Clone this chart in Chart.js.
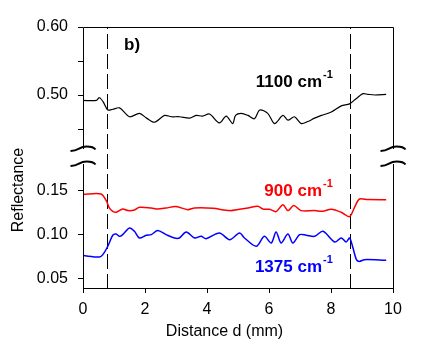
<!DOCTYPE html>
<html lang="en">
<head>
  <meta charset="UTF-8">
  <title>Reflectance vs distance</title>
  <script src="https://cdn.jsdelivr.net/npm/chart.js"></script>
  <style>
    body {
      margin: 0;
      background: #fff;
    }
    .chart-box {
      width: 426px;
      height: 354px;
    }
  </style>
</head>
<body>
  <div class="chart-box">
    <canvas id="reflChart" width="426" height="354"></canvas>
  </div>

  <script>
    // 1100 cm-1 (upper panel)
    const blackX = [0, 0.43, 0.53, 0.65, 0.80, 0.96, 1.18, 1.50, 1.82, 2.05, 2.31, 2.63, 2.85, 3.11, 3.44, 3.65, 3.86, 4.08, 4.40, 4.62, 4.83, 4.92, 5.10, 5.32, 5.53, 5.70, 5.96, 6.18, 6.45, 6.61, 6.82, 7.04, 7.25, 7.47, 7.69, 8.01, 8.33, 8.60, 8.82, 9.03, 9.19, 9.41, 9.78];
    const blackY = [0.492, 0.492, 0.496, 0.490, 0.478, 0.479, 0.481, 0.468, 0.473, 0.466, 0.460, 0.470, 0.468, 0.468, 0.466, 0.470, 0.469, 0.472, 0.459, 0.469, 0.458, 0.470, 0.473, 0.470, 0.465, 0.478, 0.473, 0.458, 0.470, 0.463, 0.468, 0.458, 0.461, 0.466, 0.470, 0.475, 0.484, 0.487, 0.495, 0.502, 0.501, 0.500, 0.501];

    // 900 cm-1 (lower panel)
    const redX = [0, 0.58, 0.75, 0.85, 0.96, 1.07, 1.28, 1.45, 1.66, 1.82, 2.20, 2.41, 2.68, 3.00, 3.38, 3.60, 4.19, 4.73, 5.05, 5.32, 5.64, 5.80, 6.02, 6.23, 6.45, 6.61, 6.80, 7.04, 7.47, 7.73, 8.01, 8.33, 8.60, 8.76, 8.92, 9.19, 9.78];
    const redY = [0.146, 0.1466, 0.139, 0.1307, 0.1269, 0.1258, 0.1296, 0.1277, 0.1284, 0.1315, 0.1307, 0.1296, 0.1307, 0.1323, 0.1288, 0.1307, 0.1303, 0.1277, 0.1292, 0.1307, 0.1326, 0.1296, 0.1292, 0.1266, 0.1345, 0.1277, 0.1334, 0.1277, 0.1277, 0.1269, 0.1292, 0.1258, 0.1209, 0.1315, 0.1409, 0.1402, 0.1400];

    // 1375 cm-1 (lower panel)
    const blueX = [0, 0.53, 0.64, 0.80, 0.96, 1.07, 1.18, 1.28, 1.50, 1.66, 1.82, 2.04, 2.20, 2.41, 2.68, 2.95, 3.11, 3.33, 3.60, 3.81, 3.97, 4.40, 4.73, 5.05, 5.21, 5.59, 5.85, 6.07, 6.23, 6.39, 6.61, 6.77, 6.99, 7.20, 7.47, 7.74, 8.12, 8.33, 8.49, 8.60, 8.71, 8.82, 8.92, 9.08, 9.78];
    const blueY = [0.0766, 0.075, 0.0777, 0.0872, 0.0997, 0.1011, 0.0985, 0.1004, 0.108, 0.1042, 0.0966, 0.0997, 0.1004, 0.105, 0.1004, 0.0966, 0.0966, 0.1034, 0.0966, 0.0985, 0.0958, 0.1023, 0.0947, 0.1023, 0.0966, 0.0872, 0.0985, 0.0909, 0.1034, 0.0909, 0.1011, 0.0909, 0.1004, 0.0997, 0.0985, 0.1042, 0.092, 0.0966, 0.092, 0.0966, 0.0852, 0.072, 0.070, 0.072, 0.0712];

    // dashed boundary lines
    const markerX = [0.77, 8.6];

    // ticks
    const xTicks = [0, 2, 4, 6, 8, 10];
    const highTicks = [0.45, 0.50, 0.55, 0.60];
    const highLabels = ['', '0.50', '', '0.60'];
    const lowTicks = [0.05, 0.075, 0.10, 0.125, 0.15];
    const lowLabels = ['0.05', '', '0.10', '', '0.15'];

    const FONT = '"Liberation Sans", Arial, sans-serif';
    const toPoints = (xs, ys) => xs.map((x, i) => ({ x: x, y: ys[i] }));

    const framePlugin = {
      id: 'frame',
      beforeDatasetsDraw(chart) {
        const { ctx, chartArea: a, scales } = chart;
        ctx.save();
        ctx.strokeStyle = '#000';
        ctx.lineWidth = 1;
        ctx.setLineDash([15, 5]);
        ctx.lineDashOffset = 13;
        markerX.forEach(v => {
          const x = Math.round(scales.x.getPixelForValue(v)) + 0.5;
          ctx.beginPath();
          ctx.moveTo(x, a.top);
          ctx.lineTo(x, a.bottom);
          ctx.stroke();
        });
        ctx.restore();
      },
      afterDraw(chart) {
        const { ctx, chartArea: a, scales } = chart;
        const gapTop = scales.yHigh.bottom - 7;
        const gapBottom = scales.yLow.top + 8;
        const left = Math.round(a.left) + 0.5;
        const right = Math.round(a.right) + 0.5;
        const top = Math.round(a.top) + 0.5;

        ctx.save();
        ctx.strokeStyle = '#000';
        ctx.lineWidth = 1;
        ctx.beginPath();
        ctx.moveTo(left, gapTop);
        ctx.lineTo(left, top);
        ctx.lineTo(right, top);
        ctx.lineTo(right, gapTop);
        ctx.moveTo(left, gapBottom);
        ctx.lineTo(left, a.bottom);
        ctx.moveTo(right, gapBottom);
        ctx.lineTo(right, a.bottom);
        ctx.stroke();

        // axis break marks
        ctx.lineWidth = 2;
        [left, right].forEach(x => {
          [gapTop, gapBottom].forEach(y => {
            ctx.beginPath();
            ctx.moveTo(x - 13, y + 2);
            ctx.bezierCurveTo(x - 4, y + 2, x - 5, y - 2.5, x + 3, y - 2.5);
            ctx.quadraticCurveTo(x + 10, y - 2.5, x + 12, y + 0.5);
            ctx.stroke();
          });
        });

        // axis titles
        ctx.fillStyle = '#000';
        ctx.font = '16px ' + FONT;
        ctx.textAlign = 'center';
        ctx.textBaseline = 'alphabetic';
        ctx.fillText('Distance d (mm)', 224.5, 336);
        ctx.translate(23, 190);
        ctx.rotate(-Math.PI / 2);
        ctx.fillText('Reflectance', 0, 0);
        ctx.restore();

        // panel label and series labels
        ctx.save();
        ctx.textBaseline = 'alphabetic';
        ctx.fillStyle = '#000';
        ctx.font = 'bold 17px ' + FONT;
        ctx.textAlign = 'left';
        ctx.fillText('b)', 124, 50);

        const labels = [
          { text: '1100 cm', color: '#000', x: scales.x.getPixelForValue(7.71), y: scales.yHigh.getPixelForValue(0.5118) },
          { text: '900 cm', color: '#ff0000', x: scales.x.getPixelForValue(7.71), y: scales.yLow.getPixelForValue(0.1445) },
          { text: '1375 cm', color: '#0000ff', x: scales.x.getPixelForValue(7.71), y: scales.yLow.getPixelForValue(0.058) }
        ];
        labels.forEach(l => {
          ctx.fillStyle = l.color;
          ctx.font = 'bold 17px ' + FONT;
          ctx.textAlign = 'right';
          ctx.fillText(l.text, l.x, l.y);
          ctx.font = 'bold 11px ' + FONT;
          ctx.textAlign = 'left';
          ctx.fillText('-1', l.x + 1, l.y - 9);
        });
        ctx.restore();
      }
    };

    const lineSet = (label, points, color, width, axis) => ({
      label: label,
      data: points,
      borderColor: color,
      borderWidth: width,
      pointRadius: 0,
      tension: 0.3,
      fill: false,
      yAxisID: axis
    });

    const tickGrid = {
      display: true,
      drawOnChartArea: false,
      drawTicks: true,
      tickLength: 5,
      tickColor: '#000',
      tickWidth: 1
    };

    new Chart(document.getElementById('reflChart').getContext('2d'), {
      type: 'line',
      data: {
        datasets: [
          lineSet('1100 cm-1', toPoints(blackX, blackY), '#000000', 1.2, 'yHigh'),
          lineSet('900 cm-1', toPoints(redX, redY), '#ff0000', 1.5, 'yLow'),
          lineSet('1375 cm-1', toPoints(blueX, blueY), '#0000ff', 1.5, 'yLow')
        ]
      },
      options: {
        responsive: false,
        animation: false,
        layout: { padding: { left: 0, right: 33, top: 27, bottom: 0 } },
        plugins: {
          legend: { display: false },
          tooltip: { enabled: false }
        },
        scales: {
          x: {
            type: 'linear',
            min: 0,
            max: 10,
            afterBuildTicks: s => { s.ticks = xTicks.map(v => ({ value: v })); },
            afterFit: s => { s.height = 66; },
            ticks: { color: '#000', padding: 7, font: { family: FONT, size: 16 }, callback: v => String(v) },
            grid: tickGrid,
            border: { display: true, color: '#000', width: 1 }
          },
          yLow: {
            type: 'linear',
            position: 'left',
            stack: 'refl',
            stackWeight: 132,
            weight: 0,
            min: 0.03977,
            max: 0.18977,
            afterBuildTicks: s => { s.ticks = lowTicks.map(v => ({ value: v })); },
            afterFit: s => { s.width = 83; },
            ticks: {
              color: '#000',
              padding: 10,
              font: { family: FONT, size: 16 },
              callback: (v, i) => lowLabels[i]
            },
            grid: tickGrid,
            border: { display: false }
          },
          yHigh: {
            type: 'linear',
            position: 'left',
            stack: 'refl',
            stackWeight: 129,
            weight: 1,
            min: 0.4103,
            max: 0.60,
            afterBuildTicks: s => { s.ticks = highTicks.map(v => ({ value: v })); },
            afterFit: s => { s.width = 83; },
            ticks: {
              color: '#000',
              padding: 10,
              font: { family: FONT, size: 16 },
              callback: (v, i) => highLabels[i]
            },
            grid: tickGrid,
            border: { display: false }
          }
        }
      },
      plugins: [framePlugin]
    });
  </script>
</body>
</html>
